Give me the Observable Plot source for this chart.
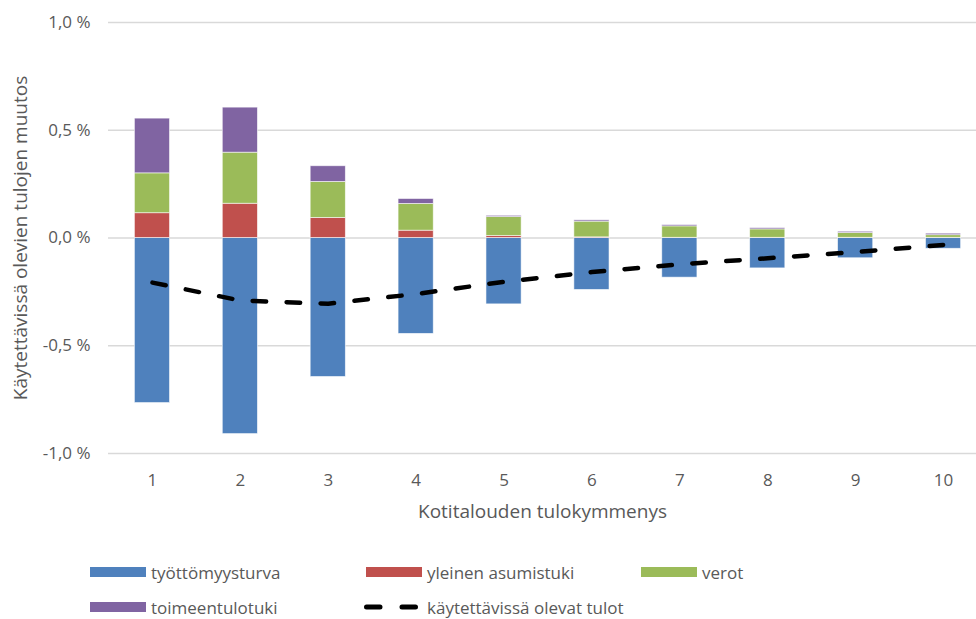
<!DOCTYPE html>
<html>
<head>
<meta charset="utf-8">
<script src="https://cdn.jsdelivr.net/npm/d3@7"></script>
<script src="https://cdn.jsdelivr.net/npm/@observablehq/plot@0.6"></script>
<style>
  html, body { margin: 0; padding: 0; background: #fff; overflow: hidden; }
  body { width: 976px; height: 619px; position: relative; font-family: "Open Sans", sans-serif; color: #595959; }
  #chart svg { display: block; overflow: visible; }
  #legend { position: absolute; left: 0; top: 530px; width: 976px; height: 89px; font-size: 17px; line-height: 1; }
  .item { position: absolute; display: flex; align-items: center; height: 18px; }
  .sw { width: 56px; height: 10px; margin-right: 5px; }
</style>
</head>
<body>
<div id="chart"></div>
<div id="legend"></div>
<script>
const deciles = [1, 2, 3, 4, 5, 6, 7, 8, 9, 10];
const seriesNames = ["työttömyysturva", "yleinen asumistuki", "verot", "toimeentulotuki"];
const seriesColors = ["#4F81BD", "#C0504D", "#9BBB59", "#8064A2"];
const tyottomyysturva = [-0.766, -0.91, -0.645, -0.445, -0.308, -0.241, -0.184, -0.141, -0.094, -0.05];
const asumistuki = [0.115, 0.159, 0.093, 0.034, 0.009, 0.003, 0.001, 0.001, 0.001, 0.001];
const verot = [0.185, 0.237, 0.167, 0.124, 0.088, 0.073, 0.053, 0.039, 0.022, 0.012];
const toimeentulotuki = [0.254, 0.209, 0.073, 0.023, 0.006, 0.006, 0.006, 0.006, 0.006, 0.007];
const lineName = "käytettävissä olevat tulot";
const kaytettavissa = [-0.207, -0.29, -0.305, -0.26, -0.203, -0.158, -0.122, -0.094, -0.065, -0.032];
const yTicks = [-1, -0.5, 0, 0.5, 1];
const xLabel = "Kotitalouden tulokymmenys";
const yLabel = "Käytettävissä olevien tulojen muutos";

const seriesValues = [tyottomyysturva, asumistuki, verot, toimeentulotuki];
const barData = [];
seriesNames.forEach((name, si) => {
  deciles.forEach((d, i) => barData.push({decile: d, series: name, value: seriesValues[si][i]}));
});
const lineData = deciles.map((d, i) => ({decile: d, value: kaytettavissa[i]}));

const fmt = v => v.toFixed(1).replace(".", ",") + " %";

const chart = Plot.plot({
  width: 976,
  height: 530,
  marginLeft: 108,
  marginRight: 0,
  marginTop: 22,
  marginBottom: 77,
  style: {fontFamily: "Open Sans, sans-serif", fontSize: "17px", color: "#595959", background: "#fff"},
  x: {type: "band", domain: deciles, range: [108, 987], paddingInner: 0.6, paddingOuter: 0.3, round: false},
  y: {domain: [-1, 1]},
  color: {domain: seriesNames, range: seriesColors},
  marks: [
    Plot.gridY(yTicks, {stroke: "#d9d9d9", strokeOpacity: 1, strokeWidth: 1.3}),
    Plot.axisY({ticks: yTicks, tickFormat: fmt, tickSize: 0, tickPadding: 18, fontSize: 17, label: null}),
    Plot.axisY({ticks: [], label: yLabel, labelAnchor: "center", labelArrow: "none", labelOffset: 95, fontSize: 19}),
    Plot.axisX({tickSize: 0, tickPadding: 20, fontSize: 17, label: null}),
    Plot.axisX({ticks: [], label: xLabel, labelAnchor: "center", labelArrow: "none", labelOffset: 64, fontSize: 19}),
    Plot.barY(barData, Plot.stackY({x: "decile", y: "value", fill: "series", stroke: "#fff", strokeWidth: 0.8, strokeOpacity: 0.7})),
    Plot.line(lineData, {x: "decile", y: "value", stroke: "#000", strokeWidth: 4.5, strokeDasharray: "13.5,20.5", strokeLinecap: "round"})
  ]
});
document.getElementById("chart").appendChild(chart);

const legend = document.getElementById("legend");
const items = [
  {name: seriesNames[0], color: seriesColors[0], left: 90, top: 33},
  {name: seriesNames[1], color: seriesColors[1], left: 366, top: 33},
  {name: seriesNames[2], color: seriesColors[2], left: 641, top: 33},
  {name: seriesNames[3], color: seriesColors[3], left: 90, top: 68},
  {name: lineName, color: null, left: 364, top: 68}
];
items.forEach(it => {
  const div = document.createElement("div");
  div.className = "item";
  div.style.left = it.left + "px";
  div.style.top = it.top + "px";
  if (it.color) {
    const sw = document.createElement("div");
    sw.className = "sw";
    sw.style.background = it.color;
    div.appendChild(sw);
  } else {
    const ns = "http://www.w3.org/2000/svg";
    const s = document.createElementNS(ns, "svg");
    s.setAttribute("width", 58); s.setAttribute("height", 10);
    s.style.marginRight = "5px";
    const l = document.createElementNS(ns, "line");
    l.setAttribute("x1", 2.5); l.setAttribute("x2", 55); l.setAttribute("y1", 5); l.setAttribute("y2", 5);
    l.setAttribute("stroke", "#000"); l.setAttribute("stroke-width", 5);
    l.setAttribute("stroke-linecap", "round"); l.setAttribute("stroke-dasharray", "13.5,22");
    s.appendChild(l);
    div.appendChild(s);
  }
  const t = document.createElement("span");
  t.textContent = it.name;
  div.appendChild(t);
  legend.appendChild(div);
});
</script>
</body>
</html>
